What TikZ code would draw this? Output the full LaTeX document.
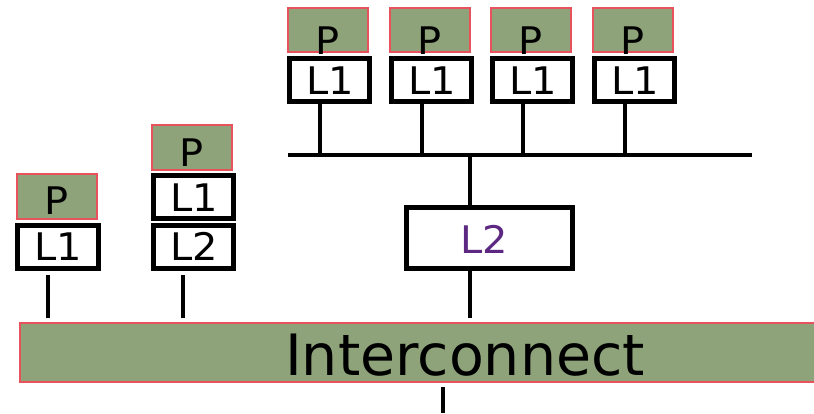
\documentclass[tikz,border=0pt]{standalone}
\usepackage{fontspec}
\setmainfont{DejaVu Sans}
\definecolor{pgreen}{RGB}{143,163,122}
\definecolor{pred}{RGB}{232,82,92}
\definecolor{lpurple}{RGB}{92,40,130}
\newcommand{\wtxt}[2]{\scalebox{#1}[1]{#2}}
\begin{document}
\begin{tikzpicture}[x=1pt,y=-1pt,
  pbox/.style={draw=pred,line width=2.5pt,fill=pgreen},
  lbox/.style={draw=black,line width=5pt,fill=white},
  wire/.style={draw=black,line width=4pt},
  lbl/.style={font=\fontsize{38}{38}\selectfont,inner sep=0pt,anchor=base}]
\useasboundingbox (0,0) rectangle (814,413);
% Interconnect
\path[pbox] (20,323) rectangle (820,382);
\node[font=\fontsize{57}{57}\selectfont,inner sep=0pt,anchor=base] (ic) at (465,375) {Interconnect};
\coordinate (icb) at (443,387);
\coordinate (icbot) at (443,413);
\draw[wire] (icb) -- (icbot);
% left column
\path[pbox] (17,174) rectangle (97,219);
\node[lbl] (p0) at (57,214) {\wtxt{1.05}{P}};
\path[lbox] (17,225) rectangle (98,268);
\node[lbl] (l0) at (58,260) {\wtxt{1.05}{L1}};
\coordinate (t0) at (48,275); \coordinate (b0) at (48,318);
\draw[wire] (t0) -- (b0);
% second column
\path[pbox] (152,125) rectangle (232,170);
\node[lbl] (p1) at (192,166) {\wtxt{1.05}{P}};
\path[lbox] (153,175) rectangle (233,218);
\node[lbl] (l1a) at (194,211) {\wtxt{1.05}{L1}};
\path[lbox] (153,225) rectangle (233,268);
\node[lbl] (l1b) at (194,260) {\wtxt{1.05}{L2}};
\coordinate (t1) at (183,275); \coordinate (b1) at (183,318);
\draw[wire] (t1) -- (b1);
% top row
\foreach \i/\x in {0/288,1/390,2/491,3/593}{
  \path[pbox] (\x,8) rectangle ({\x+80},52);
  \node[lbl] (tp\i) at ({\x+40},54) {\wtxt{1.05}{P}};
  \path[lbox] ({\x+1},58) rectangle ({\x+81},101);
  \node[lbl] (tl\i) at ({\x+42},94) {\wtxt{1.05}{L1}};
  \coordinate (ta\i) at ({\x+32},101);
  \coordinate (tb\i) at ({\x+32},155);
  \draw[wire] (ta\i) -- (tb\i);
}
\coordinate (busl) at (288,155);
\coordinate (busr) at (752,155);
\draw[wire] (busl) -- (busr);
% L2
\path[lbox] (406,207) rectangle (572,268);
\node[lbl,text=lpurple] (l2) at (484,253) {\wtxt{1.05}{L2}};
\coordinate (l2a) at (470,155); \coordinate (l2b) at (470,207);
\draw[wire] (l2a) -- (l2b);
\coordinate (l2c) at (470,268); \coordinate (l2d) at (470,318);
\draw[wire] (l2c) -- (l2d);
\end{tikzpicture}
\end{document}
